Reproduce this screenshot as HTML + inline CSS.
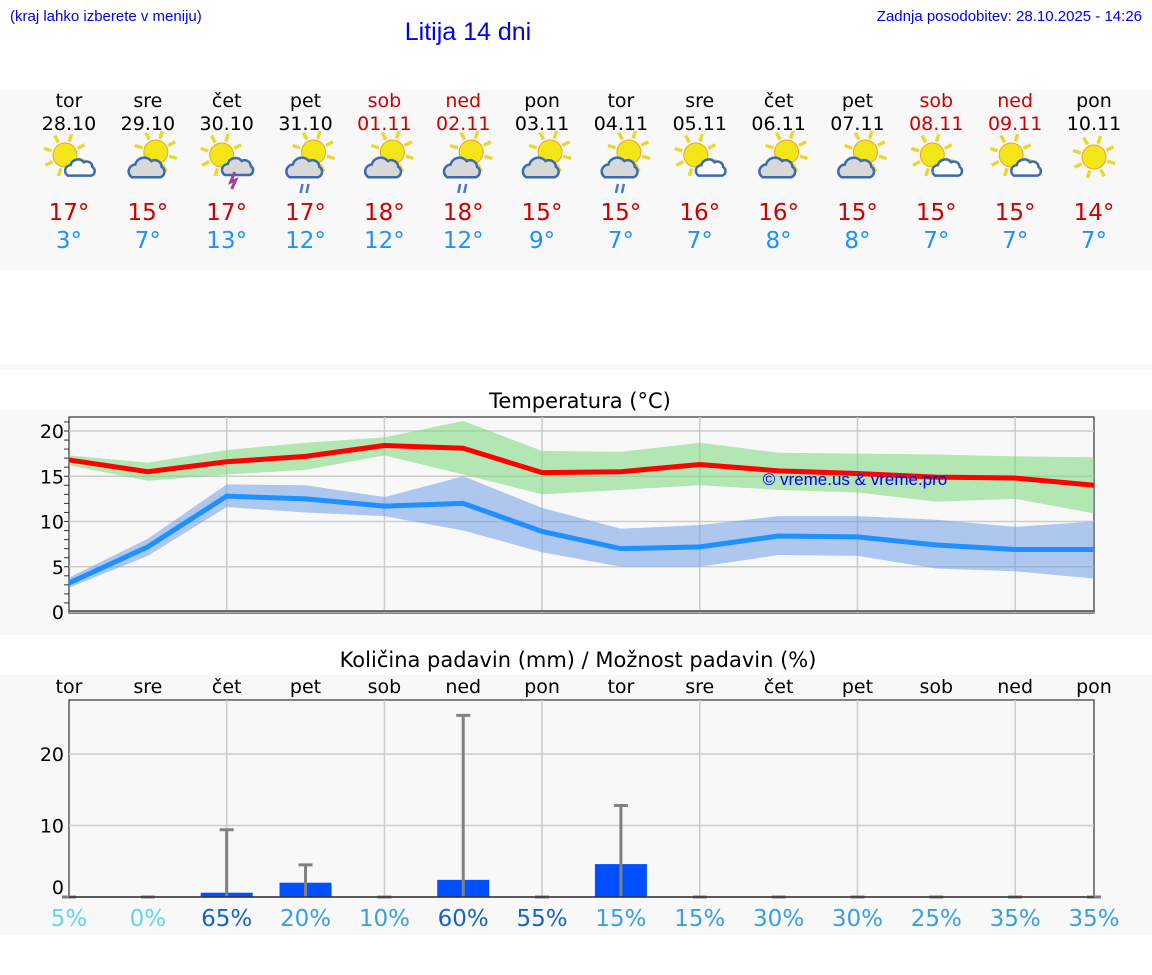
<!DOCTYPE html>
<html><head><meta charset="utf-8"><style>
body{margin:0;background:#fff;}
svg{display:block;font-family:"DejaVu Sans","Liberation Sans",sans-serif;}
</style></head><body>
<svg id="s" width="1152" height="975" xmlns="http://www.w3.org/2000/svg">
<rect x="0" y="0" width="1152" height="975" fill="#fff"/>
<text x="10" y="21" font-size="15" fill="#0000ee" font-family="Liberation Sans,sans-serif">(kraj lahko izberete v meniju)</text>
<text x="468" y="40" font-size="25" fill="#0000ee" text-anchor="middle" font-family="Liberation Sans,sans-serif">Litija 14 dni</text>
<text x="1142" y="21" font-size="15" fill="#0000ee" text-anchor="end" font-family="Liberation Sans,sans-serif">Zadnja posodobitev: 28.10.2025 - 14:26</text>
<rect x="0" y="90" width="1152" height="180" fill="#f8f8f8"/>
<rect x="0" y="364" width="1152" height="6" fill="#f8f8f8"/>
<rect x="0" y="410" width="1152" height="225" fill="#f8f8f8"/>
<rect x="0" y="675" width="1152" height="260" fill="#f8f8f8"/>
<text x="580" y="408" font-size="21" text-anchor="middle">Temperatura (°C)</text>
<text x="578" y="667" font-size="21" text-anchor="middle">Količina padavin (mm) / Možnost padavin (%)</text>
<g id="g"></g>
</svg>
<script>
const days=["tor","sre","čet","pet","sob","ned","pon","tor","sre","čet","pet","sob","ned","pon"];
const dates=["28.10","29.10","30.10","31.10","01.11","02.11","03.11","04.11","05.11","06.11","07.11","08.11","09.11","10.11"];
const weekend=[0,0,0,0,1,1,0,0,0,0,0,1,1,0];
const icons=["sc","pc","ts","rn","pc","rn","pc","rn2","sc","pc","pc","sc","sc","sun"];
const tmax=[16.8,15.5,16.6,17.2,18.4,18.1,15.4,15.5,16.3,15.6,15.3,14.9,14.8,14.0];
const tmaxHi=[17.3,16.5,17.9,18.7,19.3,21.1,17.8,17.7,18.7,17.6,17.5,17.4,17.2,17.1];
const tmaxLo=[16.2,14.5,15.2,15.7,17.3,15.2,13.0,13.5,14.0,13.5,13.2,12.2,12.5,10.9];
const tmin=[3.2,7.2,12.8,12.5,11.7,12.0,8.9,7.0,7.2,8.4,8.3,7.4,6.9,6.9];
const tminHi=[3.8,8.1,14.1,14.0,12.7,15.0,11.5,9.2,9.6,10.6,10.6,10.2,9.4,10.0];
const tminLo=[2.7,6.2,11.6,11.0,10.6,9.0,6.6,5.0,5.0,6.3,6.2,4.8,4.5,3.7];
const hiLabels=[17,15,17,17,18,18,15,15,16,16,15,15,15,14];
const loLabels=[3,7,13,12,12,12,9,7,7,8,8,7,7,7];
const precip=[0,0,0.6,2.0,0,2.4,0,4.6,0,0,0,0,0,0];
const precipMax=[0,0,9.4,4.5,0,25.4,0,12.8,0,0,0,0,0,0];
const chance=[5,0,65,20,10,60,55,15,15,30,30,25,35,35];
const tempTicks=[0,5,10,15,20];
const precipTicks=[0,10,20];

const NS="http://www.w3.org/2000/svg",G=document.getElementById('g');
function el(t,a,p){const e=document.createElementNS(NS,t);for(const k in a)e.setAttribute(k,a[k]);(p||G).appendChild(e);return e;}
function tx(x,y,s,a,p){const e=el('text',Object.assign({x:x,y:y},a),p);e.textContent=s;return e;}
const X=i=>69+i*(1094-69)/13;
const TY=v=>612-v*9.05;
const PY=v=>897-v*7.15;

function sun(cx,cy,r,p){for(let k=0;k<8;k++){const a=k*Math.PI/4+0.3;el('line',{x1:cx+Math.cos(a)*(r+2),y1:cy+Math.sin(a)*(r+2),x2:cx+Math.cos(a)*(r+10),y2:cy+Math.sin(a)*(r+10),stroke:'#e8d830','stroke-width':3.5},p);}el('circle',{cx:cx,cy:cy,r:r,fill:'#f2e618',stroke:'#f0a030','stroke-width':1},p);}
function cloud(cx,cy,s,fill,p){const d=`M${cx-14*s},${cy+8*s} a${6*s},${6*s} 0 0 1 ${3*s},${-11*s} a${8*s},${8*s} 0 0 1 ${14*s},${-3*s} a${6*s},${6*s} 0 0 1 ${9*s},${5*s} a${5*s},${5*s} 0 0 1 ${-1*s},${9*s} z`;el('path',{d:d,fill:fill,stroke:'#3a6ab0','stroke-width':2.5},p);}
for(let i=0;i<14;i++){
  const x=X(i),c=weekend[i]?'#cc0000':'#000';
  const g=el('g',{});
  
  
  tx(x,107,days[i],{'font-size':19,'text-anchor':'middle',fill:c},g);
  tx(x,130,dates[i],{'font-size':19,'text-anchor':'middle',fill:c},g);
  const ic=el('g',{},g);
  
  
  const t=icons[i];
  if(t==='sun'){sun(x,157,12,ic);}
  else if(t==='sc'){sun(x-4,155,12,ic);cloud(x+12,168,0.95,'#fff',ic);}
  else if(t==='ts'){sun(x-5,155,12,ic);cloud(x+12,167,1,'#d8d8d8',ic);el('path',{d:`M${x+8},172 l-4,10 l5,-2 l-4,9`,stroke:'#a040a0','stroke-width':3,fill:'none'},ic);}
  else {sun(x+8,152,12,ic);cloud(x,168,1.15,'#d8d8d8',ic);if(t==='rn'||t==='rn2'){el('path',{d:`M${x-5},193 l2,-9 M${x+1},193 l2,-9`,stroke:'#4a7ac0','stroke-width':2.5},ic);}}
  tx(x,220,hiLabels[i]+'°',{'font-size':23,'text-anchor':'middle',fill:'#cc0000'},g);
  tx(x,248,loLabels[i]+'°',{'font-size':23,'text-anchor':'middle',fill:'#1e90ff'},g);
}

el('rect',{x:69,y:417,width:1025,height:196,fill:'#f8f8f8',stroke:'#333','stroke-width':1.2});
for(const v of tempTicks){el('line',{x1:69,x2:1094,y1:TY(v),y2:TY(v),stroke:'#ccc','stroke-width':1.5});
  const l=tx(64,TY(v)+7,String(v),{'font-size':19,'text-anchor':'end'});
  
  }
for(let v=1;v<22;v++){el('line',{x1:64,x2:69,y1:TY(v),y2:TY(v),stroke:'#333'});}
for(let i=2;i<14;i+=2)el('line',{x1:X(i),x2:X(i),y1:417,y2:613,stroke:'#ccc','stroke-width':1.5});
function band(hi,lo,fill,name){let d='';hi.forEach((v,i)=>d+=(i?'L':'M')+X(i)+','+TY(v));for(let i=lo.length-1;i>=0;i--)d+='L'+X(i)+','+TY(lo[i]);const b=el('path',{d:d+'Z',fill:fill});}
function line(a,col,name){const p=el('polyline',{points:a.map((v,i)=>X(i)+','+TY(v)).join(' '),fill:'none',stroke:col,'stroke-width':5});}
band(tmaxHi,tmaxLo,'rgba(120,215,120,0.55)','max-temp-range');
band(tminHi,tminLo,'rgba(100,150,230,0.5)','min-temp-range');
line(tmax,'#ff0000','max-temp-line');
line(tmin,'#1e90ff','min-temp-line');
el('line',{x1:69,x2:1094,y1:611,y2:611,stroke:'#444','stroke-width':1.5});
tx(855,485,'© vreme.us & vreme.pro',{'font-size':17,'text-anchor':'middle',fill:'#0000ee','font-family':'Liberation Sans,sans-serif'});

el('rect',{x:69,y:700,width:1025,height:197,fill:'#f8f8f8',stroke:'#333','stroke-width':1.2});
for(const v of precipTicks){if(v>0)el('line',{x1:69,x2:1094,y1:PY(v),y2:PY(v),stroke:'#ccc','stroke-width':1.5});
  const l=tx(64,PY(v)+(v?7:-3),String(v),{'font-size':19,'text-anchor':'end'});
  
  }
for(let i=2;i<14;i+=2)el('line',{x1:X(i),x2:X(i),y1:700,y2:897,stroke:'#ccc','stroke-width':1.5});
for(let i=0;i<14;i++){
  const x=X(i);
  const dl=tx(x,693,days[i],{'font-size':19,'text-anchor':'middle'});
  
  
  if(precip[i]>0){const b=el('rect',{x:x-26,y:PY(precip[i]),width:52,height:897-PY(precip[i]),fill:'#0050ff'});}
  const e=el('path',{d:`M${x},897 V${PY(precipMax[i])} M${x-7},${PY(precipMax[i])} H${x+7}`,stroke:'#808080','stroke-width':3,fill:'none'});
  
  
  const pc=chance[i],col=pc<=5?'#5fd8ea':pc>=55?'#1565c0':'#3a9fdc';
  const t=tx(x,926,pc+'%',{'font-size':23,'text-anchor':'middle',fill:col});
  
  
}
el('line',{x1:69,x2:1094,y1:897,y2:897,stroke:'#333','stroke-width':1.5});
</script>
</body></html>
